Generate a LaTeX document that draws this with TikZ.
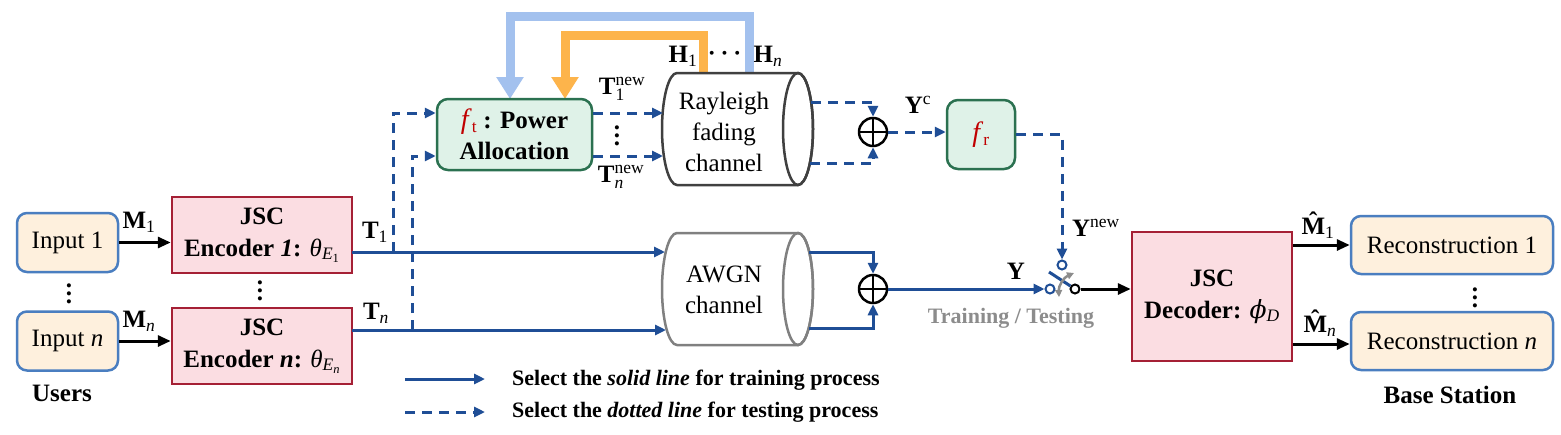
\documentclass[tikz,border=0pt]{standalone}
\usepackage{amsmath}
\usepackage{fontspec}
\setmainfont{Liberation Serif}
\newfontfamily\dvserif{DejaVu Serif}
\usetikzlibrary{arrows.meta,calc}
\definecolor{lineblue}{HTML}{1F4E96}
\definecolor{inblue}{HTML}{4A7EC0}
\definecolor{infill}{HTML}{FEF0DD}
\definecolor{encred}{HTML}{A52035}
\definecolor{encfill}{HTML}{FBDDE2}
\definecolor{grdraw}{HTML}{2B7150}
\definecolor{grfill}{HTML}{DFF2E8}
\definecolor{fborange}{HTML}{FDB44B}
\definecolor{fbblue}{HTML}{A3C1EE}
\definecolor{fred}{HTML}{C00000}
\definecolor{awgngray}{HTML}{808080}
\definecolor{raygray}{HTML}{404040}
\definecolor{swgray}{HTML}{8C8C8C}
\newcommand{\mydotsv}{\vbox{\baselineskip=8pt\lineskiplimit=0pt\hbox{\bfseries .}\hbox{\bfseries .}\hbox{\bfseries .}}}
\newcommand{\mytheta}{\textnormal{\itshape θ}}
\newcommand{\myphi}{\textnormal{\dvserif\itshape ϕ}}
\newcommand{\mysubn}[1]{\textnormal{\itshape #1}}
\newcommand{\mysubr}[1]{\textnormal{#1}}
\newcommand{\Mhat}{\ooalign{\textbf{M}\cr\hidewidth\raisebox{0.2em}{\textbf{ˆ}}\hidewidth\cr}}
\newcommand{\mycyl}[2]{%
  \draw[#2, line width=2.5pt, fill=white] ($(#1)+(-60.5,-56)$) -- ($(#1)+(60.5,-56)$)
    arc[start angle=-90, end angle=90, x radius=15, y radius=56]
    -- ($(#1)+(-60.5,56)$)
    arc[start angle=90, end angle=270, x radius=15, y radius=56] -- cycle;
  \draw[#2, line width=2.5pt] ($(#1)+(60.5,0)$) ellipse [x radius=15, y radius=56];}
\tikzset{
  lbl/.style={font=\fontsize{25}{31}\selectfont, inner sep=0pt},
  inbox/.style={draw=inblue, fill=infill, line width=2.5pt, rounded corners=10pt,
    minimum width=101pt, minimum height=59pt, inner sep=0pt, font=\fontsize{25}{31}\selectfont},
  encbox/.style={draw=encred, fill=encfill, line width=2.5pt, minimum width=180pt,
    minimum height=76pt, inner sep=0pt, align=center, font=\fontsize{25}{32}\selectfont\bfseries},
  grbox/.style={draw=grdraw, fill=grfill, line width=2.5pt, rounded corners=11pt,
    inner sep=0pt, align=center, font=\fontsize{25}{31}\selectfont\bfseries},
  bl/.style={lineblue, line width=3pt, -{Triangle[length=11pt,width=10pt]}},
  bld/.style={bl, dash pattern=on 10pt off 7pt},
  blk/.style={black, line width=3pt, -{Triangle[length=13pt,width=11pt]}},
  fb/.style={line width=9pt, -{Triangle[length=22pt,width=26pt]}},
  sumnode/.style={circle, draw, line width=2.5pt, minimum size=28pt, inner sep=0pt, fill=white,
    path picture={\draw[line width=2pt] (path picture bounding box.north) -- (path picture bounding box.south)
      (path picture bounding box.west) -- (path picture bounding box.east);}},
  contact/.style={circle, draw, line width=2pt, fill=white, minimum size=9pt, inner sep=0pt},
  legtext/.style={font=\fontsize{22}{26}\selectfont\bfseries, inner sep=0pt, anchor=west},
}
\begin{document}
\begin{tikzpicture}[x=1pt,y=-1pt]
\useasboundingbox (0,0) rectangle (1561,434);
\fill[white] (0,0) rectangle (1561,434);

% feedback loops
\draw[fb, fbblue] (749,73) -- (749,16) -- (510,16) -- (510,99);
\draw[fb, fborange] (703,73) -- (703,35) -- (565,35) -- (565,99);

% users
\node[inbox] (in1) at (67.5,242.5) {Input 1};
\node[inbox] (inn) at (67.5,341) {Input \textit{n}};
\node[lbl] (d1) at (69,294) {\mydotsv};
\node[lbl, font=\fontsize{25}{31}\selectfont\bfseries] (users) at (62,393) {Users};

% encoders
\node[encbox] (enc1) at (262,235) {JSC\\Encoder \textit{1}: \mytheta$_{\mysubn{E}_{\mysubr{1}}}$};
\node[encbox] (encn) at (262,346) {JSC\\Encoder \textit{n}: \mytheta$_{\mysubn{E}_{\mysubn{n}}}$};
\node[lbl] (d2) at (260,291) {\mydotsv};

\draw[blk] (in1.east) -- (in1.east -| enc1.west);
\draw[blk] (inn.east) -- (inn.east -| encn.west);
\node[lbl] (m1) at (139,222) {\textbf{M}$_{\text{1}}$};
\node[lbl] (mn) at (139,321) {\textbf{M}$_{\textit{n}}$};

% power allocation
\node[grbox, minimum width=155pt, minimum height=71pt] (pa) at (514.5,134.5)
  {\textcolor{fred}{\textnormal{\fontsize{28}{31}\selectfont\itshape f}$_{\mysubr{t}}$} : Power\\Allocation};
% receiver function
\node[grbox, minimum width=68pt, minimum height=69pt] (fr) at (981,134.5)
  {\textcolor{fred}{\textnormal{\fontsize{28}{31}\selectfont\itshape f}$_{\mysubr{r}}$}};

% channels
\coordinate (rayc) at (737.5,129);
\coordinate (awgnc) at (737.5,289);
\mycyl{rayc}{raygray}
\mycyl{awgnc}{awgngray}
\node[lbl, align=center] (ray) at (724,132) {Rayleigh\\fading\\channel};
\node[lbl, align=center] (awgn) at (724,290) {AWGN\\channel};

% sums
\node[sumnode] (s1) at (873,132) {};
\node[sumnode] (s2) at (873,289) {};

% encoder outputs (solid)
\coordinate (e1o) at (352,252);
\coordinate (eno) at (352,330);
\coordinate (a1i) at (665,252);
\coordinate (ani) at (666,330);
\draw[bl] (e1o) -- (a1i);
\draw[bl] (eno) -- (ani);
\node[lbl] (t1) at (375,232) {\textbf{T}$_{\text{1}}$};
\node[lbl] (tn) at (376,313) {\textbf{T}$_{\textit{n}}$};

% dashed branches to power allocation
\coordinate (b1) at (393,252);
\coordinate (bn) at (412,330);
\draw[bld] (b1) |- (pa.west |- 0,113);
\draw[bld] (bn) |- (pa.west |- 0,156);

% power allocation to Rayleigh
\coordinate (r1i) at (663,113);
\coordinate (rni) at (663,156);
\draw[bld] (pa.east |- r1i) -- (r1i);
\draw[bld] (pa.east |- rni) -- (rni);
\node[lbl] (t1new) at (622,89) {\textbf{T}$^{\text{new}}_{\text{1}}$};
\node[lbl] (tnnew) at (621,177) {\textbf{T}$^{\text{new}}_{\textit{n}}$};
\node[lbl] (d3) at (617,136) {\mydotsv};

% H labels
\node[lbl] (h1) at (683,56) {\textbf{H}$_{\text{1}}$};
\node[lbl] (hd) at (727,54) {$\boldsymbol{\cdots}$};
\node[lbl] (hn) at (768,56) {\textbf{H}$_{\textit{n}}$};

% Rayleigh outputs to sum (dashed)
\coordinate (r1o) at (811,102);
\coordinate (rno) at (810,163);
\draw[bld] (r1o) -| (s1.north);
\draw[bld] (rno) -| (s1.south);
\draw[bld] (s1.east) -- (s1.east -| fr.west);
\node[lbl] (yc) at (918,105) {\textbf{Y}$^{\text{c}}$};

% AWGN outputs to sum (solid)
\coordinate (a1o) at (809,252);
\coordinate (ano) at (809,328);
\draw[bl] (a1o) -| (s2.north);
\draw[bl] (ano) -| (s2.south);

% switch
\node[contact, draw=lineblue] (ctop) at (1062,265) {};
\node[contact, draw=lineblue] (cleft) at (1050,289) {};
\node[contact, draw=black] (cright) at (1075,289) {};
\coordinate (blade) at (1049,272);
\draw[lineblue, line width=3pt] (blade) -- (cright);
\coordinate (ga) at (1059,297);
\coordinate (gb) at (1074,273);
\draw[swgray, line width=2.5pt, {Triangle[length=7pt,width=7pt]}-{Triangle[length=7pt,width=7pt]}] (ga) to[bend left=35] (gb);

\draw[bl] (s2.east) -- (cleft.west);
\draw[bld] (fr.east) -| (ctop.north);
\node[lbl] (ynew) at (1096,228) {\textbf{Y}$^{\text{new}}$};
\node[lbl] (y) at (1016,271) {\textbf{Y}};
\node[lbl, font=\fontsize{22}{26}\selectfont\bfseries, text=swgray] (tt) at (1011,318) {Training / Testing};

% decoder
\node[encbox, minimum width=160pt, minimum height=129pt] (dec) at (1212,296.5)
  {JSC\\Decoder: \myphi$_{\mysubn{D}}$};
\draw[blk] (cright.east) -- (cright.east -| dec.west);

% reconstructions
\node[inbox, minimum width=202pt, minimum height=58pt] (rec1) at (1452,245) {Reconstruction 1};
\node[inbox, minimum width=202pt, minimum height=58pt] (recn) at (1452,341) {Reconstruction \textit{n}};
\node[lbl] (d4) at (1475,298) {\mydotsv};
\node[lbl, font=\fontsize{25}{31}\selectfont\bfseries] (bs) at (1450,395) {Base Station};
\draw[blk] (rec1.west -| dec.east) -- (rec1.west);
\draw[blk] (recn.west -| dec.east) ++(0,3) coordinate (mnst) -- (mnst -| recn.west);
\node[lbl] (mh1) at (1318,228) {\Mhat$_{\text{1}}$};
\node[lbl] (mhn) at (1320,326) {\Mhat$_{\textit{n}}$};

% legend
\coordinate (la) at (405,379);
\coordinate (lb) at (485,379);
\coordinate (lc) at (405,412);
\coordinate (ld) at (485,412);
\draw[bl] (la) -- (lb);
\draw[bld] (lc) -- (ld);
\node[legtext] (leg1) at (512,380) {Select the \textit{solid line} for training process};
\node[legtext] (leg2) at (512,412) {Select the \textit{dotted line} for testing process};
\end{tikzpicture}
\end{document}
